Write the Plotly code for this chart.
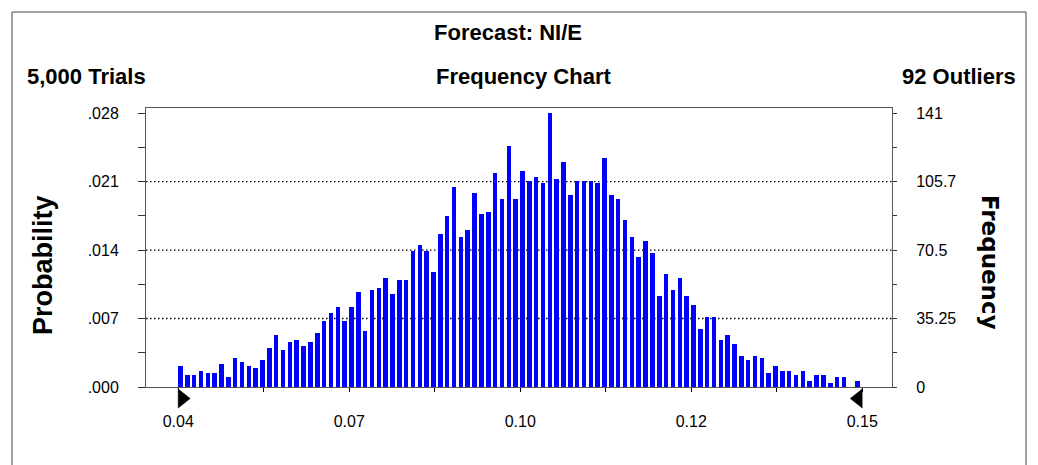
import numpy as np
import plotly.graph_objects as go

# ---------------- data ----------------
trials = 5000
outliers = 92
forecast_name = "NI/E"
counts = [11, 6, 6, 8, 7, 7, 12, 5, 15, 13,
          11, 10, 14, 20, 27, 19, 23, 24, 21, 23,
          28, 34, 38, 41, 34, 41, 49, 29, 50, 51,
          56, 48, 55, 55, 70, 73, 70, 59, 79, 88,
          103, 77, 81, 100, 89, 90, 110, 97, 124, 97,
          111, 106, 108, 105, 141, 107, 116, 99, 106, 106,
          106, 105, 118, 99, 97, 86, 77, 67, 75, 69,
          47, 58, 50, 56, 47, 42, 30, 36, 36, 24,
          27, 22, 16, 14, 16, 15, 7, 11, 8, 8,
          6, 8, 3, 6, 6, 2, 5, 5, 0, 3]
x_lo, x_hi = 0.042, 0.150
x_tick_labels = ["0.04", "", "0.07", "", "0.10", "", "0.12", "", "0.15"]
prob_tick_labels = [".000", "", ".007", "", ".014", "", ".021", "", ".028"]
freq_tick_labels = ["0", "", "35.25", "", "70.5", "", "105.7", "", "141"]
freq_tick_max = 141
freq_axis_top = 143.6

# ---------------- geometry ----------------
OFF = 8  # page body margin
W, H = 1038 - OFF, 465 - OFF
L, R, T, B = 146 - OFF, 146, 108 - OFF, 78
plot_w = W - L - R
plot_h = H - T - B
pad_l_px, pad_r_px = 32.2, 29.8
range_px = plot_w - pad_l_px - pad_r_px
xpp = (x_hi - x_lo) / range_px
x_range = [x_lo - pad_l_px * xpp, x_hi + pad_r_px * xpp]
prob_top = freq_axis_top / trials


def px(xp):
    return (xp - OFF - L) / plot_w


def py(yp):
    return (H + OFF - B - yp) / plot_h


n = len(counts)
binw = (x_hi - x_lo) / n
bin_left = x_lo + binw * np.arange(n)

x_tickvals = np.linspace(x_lo, x_hi, len(x_tick_labels))
freq_tickvals = np.linspace(0, freq_tick_max, len(freq_tick_labels))
prob_tickvals = freq_tickvals / trials

font_family = "Liberation Sans, Arial, sans-serif"

fig = go.Figure()
fig.add_trace(go.Bar(
    x=bin_left, y=counts, width=binw * 0.66, offset=0,
    marker=dict(color="#0000FF", line=dict(width=0)),
    yaxis="y2", showlegend=False, hoverinfo="skip"))
# invisible helper so the left (probability) axis has a trace
fig.add_trace(go.Scatter(x=[x_lo], y=[0], mode="markers", marker=dict(opacity=0),
                         showlegend=False, hoverinfo="skip"))

shapes = []
for v in freq_tickvals[2:-1:2]:
    shapes.append(dict(type="line", xref="paper", yref="y2", x0=0, x1=1, y0=v, y1=v,
                       line=dict(color="black", width=1.3, dash="1.5px,2.5px"), layer="below"))
# range markers (triangles) below the axis at the display-range ends
for anchor, sgn in [(x_lo, 1), (x_hi, -1)]:
    shapes.append(dict(type="path", xref="x", yref="paper",
                       xsizemode="pixel", ysizemode="pixel", xanchor=anchor, yanchor=0,
                       path=f"M0,-2 L0,-21 L{sgn * 12},-11.5 Z",
                       fillcolor="black", line=dict(color="black", width=0.5)))
shapes.append(dict(type="rect", xref="paper", yref="paper",
                   x0=px(12), x1=px(1026), y0=py(480), y1=py(12),
                   line=dict(color="#444444", width=1)))

title_font = dict(size=22, family=font_family, color="black", weight="bold")
annotations = [
    dict(text=f"Forecast: {forecast_name}", x=px(508), y=py(32), xanchor="center", yanchor="middle",
         font=title_font),
    dict(text=f"{trials:,} Trials", x=px(25), y=py(76), xanchor="left", yanchor="middle",
         font=title_font),
    dict(text="Frequency Chart", x=px(523), y=py(76), xanchor="center", yanchor="middle",
         font=title_font),
    dict(text=f"{outliers} Outliers", x=px(1018), y=py(76), xanchor="right", yanchor="middle",
         font=title_font),
    dict(text="Probability", x=px(43), y=py(265), xanchor="center", yanchor="middle", textangle=-90,
         font=dict(size=27, family=font_family, color="black", weight="bold")),
    dict(text="Frequency", x=px(990), y=py(262), xanchor="center", yanchor="middle", textangle=90,
         font=dict(size=23, family="DejaVu Sans", color="black", weight="bold")),
]
for a in annotations:
    a.update(xref="paper", yref="paper", showarrow=False)

tickfont = dict(size=16, family=font_family, color="black")
fig.update_layout(
    width=W, height=H,
    margin=dict(l=L, r=R, t=T, b=B, autoexpand=False),
    paper_bgcolor="white", plot_bgcolor="white",
    bargap=0,
    shapes=shapes, annotations=annotations,
    xaxis=dict(range=x_range, tickvals=x_tickvals, ticktext=x_tick_labels,
               ticks="outside", ticklen=4, tickcolor="black", tickfont=tickfont,
               ticklabelstandoff=16,
               showgrid=False, zeroline=False, showline=True, linecolor="#555555",
               linewidth=1, mirror=True),
    yaxis=dict(range=[0, prob_top], tickvals=prob_tickvals, ticktext=prob_tick_labels,
               ticks="outside", ticklen=7, tickcolor="#333333", tickfont=tickfont,
               ticklabelstandoff=16,
               showgrid=False, zeroline=False, showline=True, linecolor="#555555", linewidth=1),
    yaxis2=dict(range=[0, freq_axis_top], tickvals=freq_tickvals, ticktext=freq_tick_labels,
                overlaying="y", side="right",
                ticks="outside", ticklen=4, tickcolor="#333333", tickfont=tickfont,
                ticklabelstandoff=16,
                showgrid=False, zeroline=False, showline=True, linecolor="#555555", linewidth=1),
)

fig.write_html("out.html")
